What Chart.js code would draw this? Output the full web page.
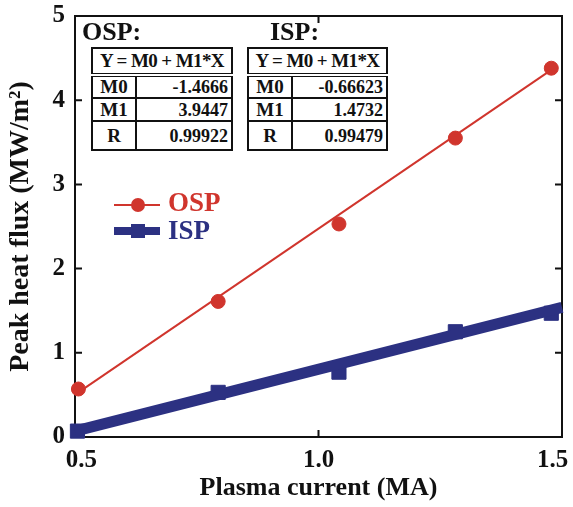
<!DOCTYPE html>
<html lang="en">
<head>
    <meta charset="UTF-8" />
    <title>Peak heat flux vs plasma current</title>
    <script src="https://cdn.jsdelivr.net/npm/chart.js"></script>
    <style>
        body { margin: 0; background: #fff; font-family: 'Liberation Serif', serif; }
        #wrap { position: relative; width: 573px; height: 507px; }
        #chart { position: absolute; left: 0; top: 0; }
        .ttl { position: absolute; font-weight: bold; font-size: 26px; line-height: 26px; color: #111; }
        table.fit { position: absolute; border-collapse: collapse; font-weight: bold; font-size: 18px; color: #111; background: #fff; }
        table.fit td { border: 2px solid #111; padding: 0 3px; line-height: 18px; }
        table.fit td.k { text-align: center; font-size: 19px; }
        table.fit td.v { text-align: right; }
        table.fit tr.head td { text-align: center; font-size: 19px; border-bottom: 4px double #111; letter-spacing: -0.6px; padding: 0 1px; white-space: nowrap; }
        .leg { position: absolute; font-weight: bold; font-size: 27px; line-height: 27px; }
        .sym { position: absolute; }
    </style>
</head>
<body>
<div id="wrap">
    <canvas id="chart" width="573" height="507"></canvas>

    <div class="ttl" style="left:82px; top:19px;">OSP:</div>
    <table class="fit" style="left:91px; top:47px; width:142px;">
        <tr class="head" style="height:27px;"><td colspan="2">Y = M0 + M1*X</td></tr>
        <tr style="height:23px;"><td class="k" style="width:36px;">M0</td><td class="v">-1.4666</td></tr>
        <tr style="height:23px;"><td class="k">M1</td><td class="v">3.9447</td></tr>
        <tr style="height:29px;"><td class="k">R</td><td class="v">0.99922</td></tr>
    </table>

    <div class="ttl" style="left:270px; top:19px;">ISP:</div>
    <table class="fit" style="left:247px; top:47px; width:141px;">
        <tr class="head" style="height:27px;"><td colspan="2">Y = M0 + M1*X</td></tr>
        <tr style="height:23px;"><td class="k" style="width:36px;">M0</td><td class="v">-0.66623</td></tr>
        <tr style="height:23px;"><td class="k">M1</td><td class="v">1.4732</td></tr>
        <tr style="height:29px;"><td class="k">R</td><td class="v">0.99479</td></tr>
    </table>

    <!-- legend -->
    <div class="sym" style="left:114px; top:204px; width:46px; height:2px; background:#d0352d;"></div>
    <div class="sym" style="left:131px; top:198px; width:14px; height:14px; border-radius:7px; background:#d0352d;"></div>
    <div class="leg" style="left:168px; top:189px; color:#d0352d;">OSP</div>
    <div class="sym" style="left:114px; top:227px; width:46px; height:8px; background:#2c3182;"></div>
    <div class="sym" style="left:131px; top:224px; width:14px; height:14px; background:#2c3182;"></div>
    <div class="leg" style="left:168px; top:217px; color:#2c3182;">ISP</div>
</div>

<script>
    // data
    const xTicks = [0.5, 1.0, 1.5];
    const xTickLabels = ['\u20020.5', '1.0', '1.5\u2002 '];  // end labels sit inside the frame
    const yTicks = [0, 1, 2, 3, 4, 5];

    const ospCurrent = [0.507, 0.794, 1.042, 1.281, 1.478];
    const ospFlux = [0.57, 1.61, 2.53, 3.55, 4.38];
    const ispCurrent = [0.505, 0.794, 1.042, 1.281, 1.478];
    const ispFlux = [0.07, 0.53, 0.77, 1.25, 1.47];

    // linear fit lines (endpoints)
    const ospFitX = [0.507, 1.478];
    const ospFitY = [0.53, 4.36];
    const ispFitX = [0.5, 1.5];
    const ispFitY = [0.07, 1.54];

    const red = '#d0352d';
    const navy = '#2c3182';

    const pts = (xs, ys) => xs.map((x, i) => ({ x: x, y: ys[i] }));

    // frame + inward ticks on all four sides
    const framePlugin = {
        id: 'frame',
        beforeDatasetsDraw(chart) {
            const { ctx, chartArea: a, scales } = chart;
            ctx.save();
            ctx.strokeStyle = '#111';
            ctx.lineWidth = 2;
            ctx.strokeRect(a.left, a.top, a.right - a.left, a.bottom - a.top);
            const len = 7;
            ctx.beginPath();
            xTicks.forEach(v => {
                const px = scales.x.getPixelForValue(v);
                ctx.moveTo(px, a.bottom); ctx.lineTo(px, a.bottom - len);
                ctx.moveTo(px, a.top); ctx.lineTo(px, a.top + len);
            });
            yTicks.forEach(v => {
                const py = scales.y.getPixelForValue(v);
                ctx.moveTo(a.left, py); ctx.lineTo(a.left + len, py);
                ctx.moveTo(a.right, py); ctx.lineTo(a.right - len, py);
            });
            ctx.stroke();
            ctx.restore();
        }
    };

    const tickFont = { family: 'Liberation Serif', size: 25, weight: 'bold' };

    new Chart(document.getElementById('chart'), {
        type: 'scatter',
        data: {
            datasets: [
                {
                    label: 'OSP fit',
                    data: pts(ospFitX, ospFitY),
                    showLine: true,
                    borderColor: red,
                    borderWidth: 2,
                    pointRadius: 0,
                    clip: false
                },
                {
                    label: 'OSP',
                    data: pts(ospCurrent, ospFlux),
                    backgroundColor: red,
                    borderColor: red,
                    pointRadius: 7,
                    pointStyle: 'circle',
                    clip: false
                },
                {
                    label: 'ISP fit',
                    data: pts(ispFitX, ispFitY),
                    showLine: true,
                    borderColor: navy,
                    borderWidth: 11,
                    borderCapStyle: 'butt',
                    pointRadius: 0,
                    clip: false
                },
                {
                    label: 'ISP',
                    data: pts(ispCurrent, ispFlux),
                    backgroundColor: navy,
                    borderColor: navy,
                    pointStyle: 'rect',
                    pointRadius: 10,
                    clip: false
                }
            ]
        },
        options: {
            responsive: false,
            animation: false,
            layout: { padding: { left: 0, right: 9, top: 16, bottom: 0 } },
            plugins: {
                legend: { display: false },
                tooltip: { enabled: false }
            },
            scales: {
                x: {
                    type: 'linear',
                    min: 0.5,
                    max: 1.5,
                    afterBuildTicks: s => { s.ticks = xTicks.map(v => ({ value: v })); },
                    afterFit: s => { s.height = 70; s.paddingLeft = 0; s.paddingRight = 0; },
                    grid: { display: false, drawTicks: false },
                    border: { display: false },
                    ticks: {
                        color: '#111',
                        font: tickFont,
                        padding: 9,
                        maxRotation: 0,
                        callback: (v, i) => xTickLabels[i]
                    },
                    title: {
                        display: true,
                        text: 'Plasma current (MA)',
                        color: '#111',
                        font: { family: 'Liberation Serif', size: 26, weight: 'bold' },
                        padding: { top: 0, bottom: 3 }
                    }
                },
                y: {
                    min: 0,
                    max: 5,
                    afterBuildTicks: s => { s.ticks = yTicks.map(v => ({ value: v })); },
                    afterFit: s => { s.width = 75; s.paddingTop = 0; s.paddingBottom = 0; },
                    grid: { display: false, drawTicks: false },
                    border: { display: false },
                    ticks: {
                        color: '#111',
                        font: tickFont,
                        padding: 10,
                        callback: v => String(v)
                    },
                    title: {
                        display: true,
                        text: 'Peak heat flux (MW/m\u00B2)',
                        color: '#111',
                        font: { family: 'Liberation Serif', size: 28, weight: 'bold' },
                        padding: { top: 4, bottom: 0 }
                    }
                }
            }
        },
        plugins: [framePlugin]
    });
</script>
</body>
</html>
